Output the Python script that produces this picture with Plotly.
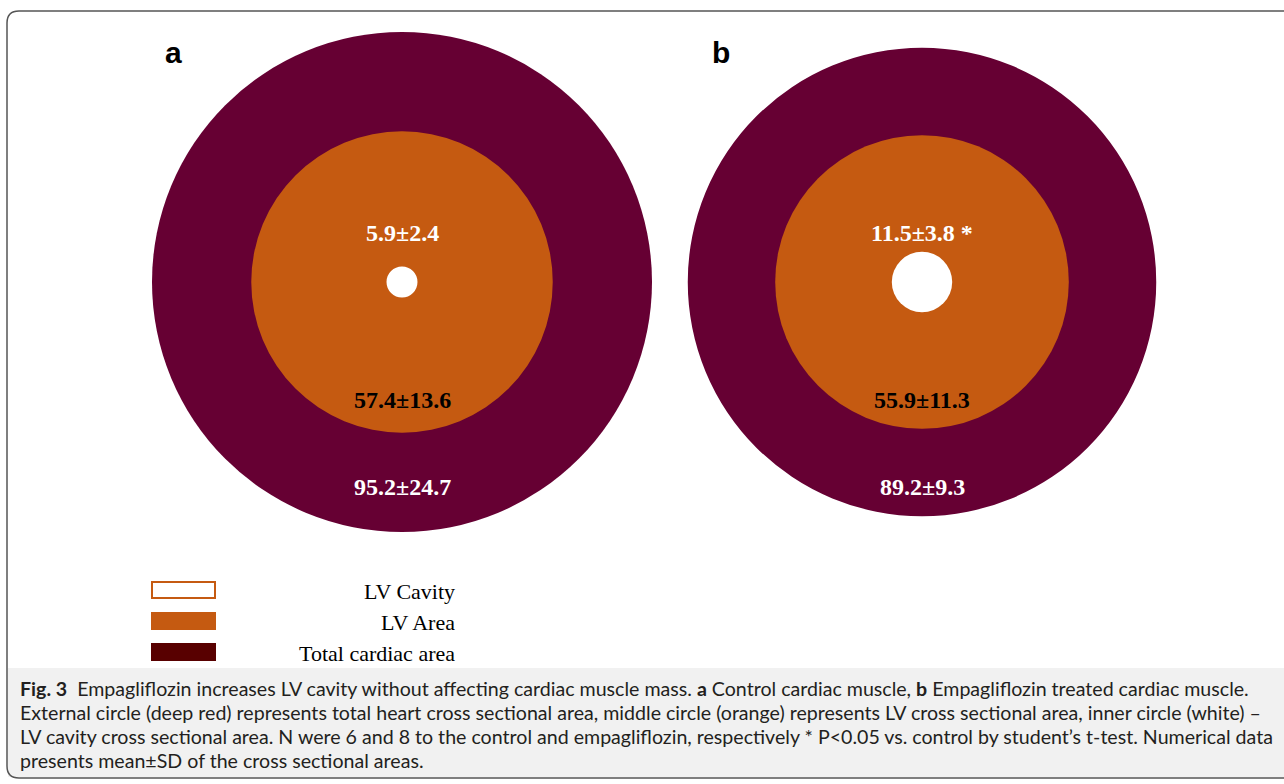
import plotly.graph_objects as go

# Mean ± SD cross-sectional areas for control (a) and empagliflozin (b)
panels = ["a", "b"]
total_mean = [95.2, 89.2]
total_sd = [24.7, 9.3]
lv_mean = [57.4, 55.9]
lv_sd = [13.6, 11.3]
cavity_mean = [5.9, 11.5]
cavity_sd = [2.4, 3.8]
cavity_mark = ["", " *"]

legend_labels = ["LV Cavity", "LV Area", "Total cardiac area"]

caption_lines = [
    "<b>Fig. 3</b>  Empagliflozin increases LV cavity without affecting cardiac muscle mass. <b>a</b> Control cardiac muscle, <b>b</b> Empagliflozin treated cardiac muscle.",
    "External circle (deep red) represents total heart cross sectional area, middle circle (orange) represents LV cross sectional area, inner circle (white) –",
    "LV cavity cross sectional area. N were 6 and 8 to the control and empagliflozin, respectively * P<0.05 vs. control by student’s t-test. Numerical data",
    "presents mean±SD of the cross sectional areas.",
]

W, H = 1284, 784
MAROON = "#660033"
ORANGE = "#C55A11"
DARK = "#580000"
SERIF = "Liberation Serif, Times New Roman, serif"
SANS = "Liberation Sans, Arial, sans-serif"
CAPTION_FONT = "Lato, sans-serif"

# radius in screen units per unit of area value
k = 250 / 95.2
centers_x = [402, 922]
cy = 282

fig = go.Figure()
# invisible trace to establish the axes
fig.add_trace(go.Scatter(x=[0, W], y=[0, H], mode="markers",
                         marker=dict(opacity=0), hoverinfo="skip", showlegend=False))

shapes = []
annotations = []

# frame and caption background
shapes.append(dict(type="rect", x0=8, x1=W + 5, y0=668, y1=777,
                   fillcolor="#f1f1f1", line=dict(width=0), layer="below"))
shapes.append(dict(type="path",
                   path=f"M {W+5},11 L 19,11 Q 7,11 7,23 L 7,766 Q 7,778 19,778 L {W+5},778",
                   line=dict(color="#555555", width=1.5), layer="above"))

for i, p in enumerate(panels):
    cx = centers_x[i]
    for val, col in [(total_mean[i], MAROON), (lv_mean[i], ORANGE), (cavity_mean[i], "white")]:
        r = val * k
        shapes.append(dict(type="circle", x0=cx - r, x1=cx + r, y0=cy - r, y1=cy + r,
                           fillcolor=col, line=dict(width=0), layer="above"))
    annotations.append(dict(x=cx, y=cy - 49, text=f"<b>{cavity_mean[i]}±{cavity_sd[i]}{cavity_mark[i]}</b>",
                            font=dict(family=SERIF, size=24, color="white"),
                            showarrow=False, xanchor="center", yanchor="middle"))
    annotations.append(dict(x=cx, y=cy + 118, text=f"<b>{lv_mean[i]}±{lv_sd[i]}</b>",
                            font=dict(family=SERIF, size=24, color="black"),
                            showarrow=False, xanchor="center", yanchor="middle"))
    annotations.append(dict(x=cx, y=cy + 205, text=f"<b>{total_mean[i]}±{total_sd[i]}</b>",
                            font=dict(family=SERIF, size=24, color="white"),
                            showarrow=False, xanchor="center", yanchor="middle"))

# panel letters
for x, p in zip([173, 721], panels):
    annotations.append(dict(x=x, y=52, text=f"<b>{p}</b>", font=dict(family=SANS, size=30, color="black"),
                            showarrow=False, xanchor="center", yanchor="middle"))

# legend
swatches = [("white", ORANGE), (ORANGE, ORANGE), (DARK, DARK)]
for j, (lab, (fill, edge)) in enumerate(zip(legend_labels, swatches)):
    y = 590 + j * 31
    shapes.append(dict(type="rect", x0=152, x1=215, y0=y - 8, y1=y + 8,
                       fillcolor=fill, line=dict(color=edge, width=2), layer="above"))
    annotations.append(dict(x=457, y=y + 1, text=lab, font=dict(family=SERIF, size=22, color="black"),
                            showarrow=False, xanchor="right", yanchor="middle"))

# caption
for j, line in enumerate(caption_lines):
    annotations.append(dict(x=18, y=688 + j * 24, text=line,
                            font=dict(family=CAPTION_FONT, size=19.6, color="#231f20"),
                            showarrow=False, xanchor="left", yanchor="middle"))

fig.update_layout(
    width=W, height=H,
    margin=dict(l=0, r=0, t=0, b=0),
    paper_bgcolor="white", plot_bgcolor="white",
    xaxis=dict(range=[0, W], visible=False, fixedrange=True),
    yaxis=dict(range=[H, 0], visible=False, fixedrange=True),
    shapes=shapes, annotations=annotations,
    showlegend=False,
)

fig.write_html("out.html", config={"displayModeBar": False})
